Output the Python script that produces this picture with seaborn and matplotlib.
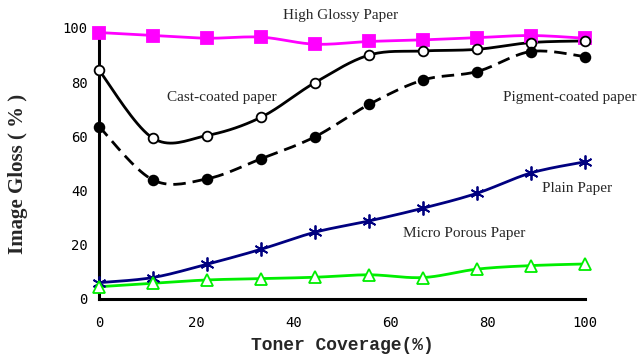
import numpy as np
import pandas as pd
import matplotlib
matplotlib.use("Agg")
import matplotlib.pyplot as plt
import seaborn as sns

sns.set_style("white")

coverage = [0, 11.1, 22.2, 33.3, 44.4, 55.6, 66.7, 77.8, 88.9, 100]
high_glossy = [98.3, 97.2, 96.2, 96.6, 94.0, 95.0, 95.6, 96.4, 97.2, 96.2]
cast_coated = [84.4, 59.3, 60.3, 67.0, 79.8, 90.0, 91.5, 92.1, 94.6, 95.2]
pigment_coated = [63.6, 43.9, 44.3, 51.7, 59.8, 71.8, 80.8, 83.9, 91.3, 89.4]
plain = [6.0, 7.9, 12.8, 18.3, 24.6, 28.8, 33.5, 39.0, 46.5, 50.6]
micro_porous = [4.5, 5.8, 7.0, 7.5, 8.0, 8.9, 7.9, 11.0, 12.3, 12.9]


def smooth(x, y, n=20):
    # Excel style smoothed line (Catmull-Rom through the points)
    x = np.asarray(x, float)
    y = np.asarray(y, float)
    px = np.concatenate([[x[0]], x, [x[-1]]])
    py = np.concatenate([[y[0]], y, [y[-1]]])
    xs, ys = [], []
    t = np.linspace(0, 1, n)
    for i in range(1, len(px) - 2):
        for p, out in ((px, xs), (py, ys)):
            p0, p1, p2, p3 = p[i - 1], p[i], p[i + 1], p[i + 2]
            c1 = p1 + (p2 - p0) / 6
            c2 = p2 - (p3 - p1) / 6
            out.extend((1 - t) ** 3 * p1 + 3 * (1 - t) ** 2 * t * c1
                       + 3 * (1 - t) * t ** 2 * c2 + t ** 3 * p2)
    return np.array(xs), np.array(ys)


series = [
    ("High Glossy Paper", high_glossy, "#FF00FF", "s", "#FF00FF", 9, "-"),
    ("Cast-coated paper", cast_coated, "black", "o", "white", 7, "-"),
    ("Pigment-coated paper", pigment_coated, "black", "o", "black", 7, "--"),
    ("Plain Paper", plain, "#000080", (6, 2, 0), "#000080", 10, "-"),
    ("Micro Porous Paper", micro_porous, "#00EE00", "^", "white", 8, "-"),
]

fig = plt.figure(figsize=(6.39, 3.58), dpi=100)
ax = fig.add_axes([0.155, 0.165, 0.7605, 0.757])

for name, vals, color, marker, mfc, ms, ls in series:
    sx, sy = smooth(coverage, vals)
    sns.lineplot(x=sx, y=sy, sort=False, estimator=None, color=color,
                 lw=2, ax=ax, zorder=2)
    if ls == "--":
        ax.lines[-1].set_dashes((4.5, 2.5))
    ax.plot(coverage, vals, ls="none", marker=marker, ms=ms, mfc=mfc,
            mec=color, mew=1.3, clip_on=False, zorder=3)

ax.set_xlim(0, 100)
ax.set_ylim(0, 100)
ax.set_xticks([0, 20, 40, 60, 80, 100])
ax.set_yticks([0, 20, 40, 60, 80, 100])
for s in ["top", "right"]:
    ax.spines[s].set_visible(False)
for s in ["left", "bottom"]:
    ax.spines[s].set_linewidth(2.2)
    ax.spines[s].set_color("black")
ax.tick_params(direction="in", length=4, width=2, colors="black", pad=8)
ax.tick_params(axis="x", pad=12)
for lab in ax.get_xticklabels() + ax.get_yticklabels():
    lab.set_family("DejaVu Sans Mono")
    lab.set_fontsize(10)

ax.set_xlabel("Toner Coverage(%)", family="Liberation Mono", weight="bold",
              fontsize=13, labelpad=5)
ax.set_ylabel("Image Gloss ( % )", family="Liberation Serif", weight="bold",
              fontsize=15)
ax.yaxis.set_label_coords(-0.146, 0.463)

labels = [
    ("High Glossy Paper", 49.6, 104.4),
    ("Cast-coated paper", 25.3, 74.2),
    ("Pigment-coated paper", 96.9, 74.2),
    ("Plain Paper", 98.4, 40.6),
    ("Micro Porous Paper", 75.1, 24.0),
]
for txt, x, y in labels:
    ax.text(x, y, txt, family="Liberation Serif", fontsize=11, ha="center",
            va="center", clip_on=False)

fig.savefig("out.png", dpi=100)
